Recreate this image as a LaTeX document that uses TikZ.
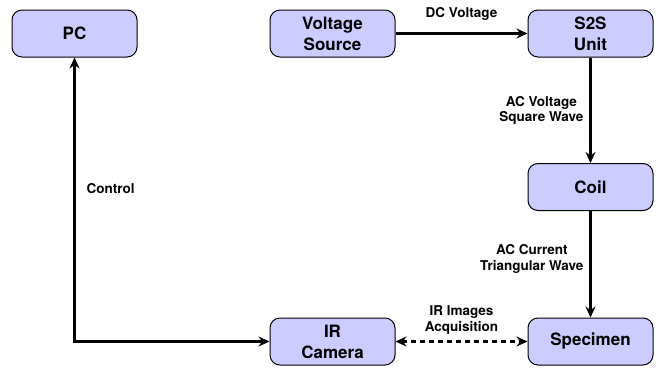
\documentclass[tikz,border=0pt]{standalone}
\usepackage{fontspec}
\setmainfont{TeX Gyre Heros}
\usepackage{tikz}
\usetikzlibrary{arrows.meta}
\definecolor{boxfill}{RGB}{204,204,255}

\begin{document}
\begin{tikzpicture}[x=1pt,y=-1pt,
  block/.style={draw=black,fill=boxfill,rounded corners=10pt,line width=1pt,
    minimum width=125pt,minimum height=47pt,align=center,inner sep=2pt,
    font=\fontsize{17}{21}\selectfont\bfseries},
  conn/.style={draw=black,line width=2.2pt,-{Stealth[length=11pt,width=10pt]}},
  lbl/.style={font=\fontsize{13.5}{15.5}\selectfont\bfseries,align=center,inner sep=3pt}]
\useasboundingbox (0,0) rectangle (662,372);
\node[block] (pc)   at (74.5,33.5)  {PC};
\node[block] (vsrc) at (332.5,33.5) {Voltage\\Source};
\node[block] (s2s)  at (590.5,33.5) {S2S\\Unit};
\node[block] (coil) at (590.5,187)  {Coil};
\node[block] (cam)  at (332.5,341.5) {IR\\Camera};
\node[block] (spec) at (590.5,341.5) {Specimen};
\draw[conn] (vsrc) -- node[lbl,above=9pt] {DC Voltage} (s2s);
\draw[conn] (s2s) -- node[lbl,left=3pt] {AC Voltage\\Square Wave} (coil);
\draw[conn] (coil) -- node[lbl,left=3pt,pos=0.45] {AC Current\\Triangular Wave} (spec);
\draw[conn,{Stealth[length=11pt,width=10pt]}-{Stealth[length=11pt,width=10pt]}]
  (cam.west) -| node[lbl,right=8pt,pos=0.77] {Control} (pc.south);
\draw[conn,dash pattern=on 5pt off 4pt,{Stealth[length=11pt,width=10pt]}-{Stealth[length=11pt,width=10pt]}]
  (cam) -- node[lbl,above=3pt] {IR Images\\Acquisition} (spec);
\end{tikzpicture}
\end{document}
